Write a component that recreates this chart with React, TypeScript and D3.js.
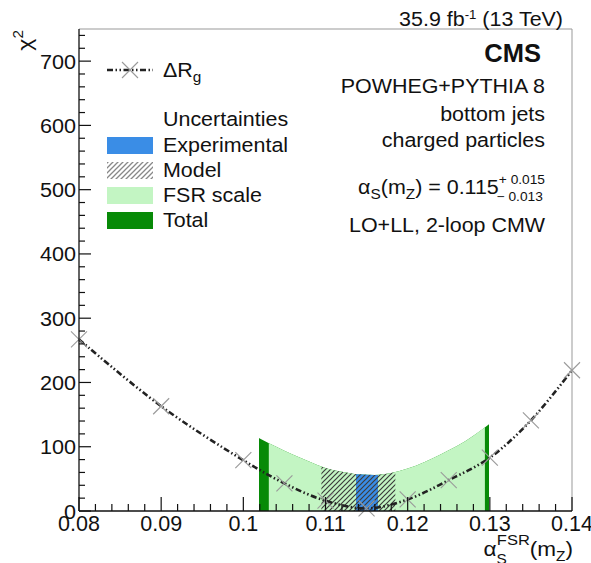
import * as d3 from "d3";

// scan points of the chi2 vs alpha_s(FSR)
const alphaValues = [0.08, 0.09, 0.1, 0.105, 0.11, 0.115, 0.12, 0.125, 0.13, 0.135, 0.14];
const chi2Values = [267, 163, 79, 43, 16, 4, 18, 48, 83, 141, 219];

// upper edge of the uncertainty bands
const bandAlpha = [0.1, 0.102, 0.104, 0.106, 0.108, 0.11, 0.112, 0.114, 0.116, 0.118, 0.12, 0.122, 0.124, 0.126, 0.128, 0.13];
const bandUpper = [127, 113, 100, 88, 77, 67, 61, 57, 56, 59, 66, 76, 88, 101, 117, 136];

// interval of each uncertainty
const totalRange = [0.1019, 0.1299];
const fsrRange = [0.1031, 0.1294];
const modelRange = [0.1095, 0.1185];
const expRange = [0.1137, 0.1164];

const xTickLabels = ["0.08", "0.09", "0.1", "0.11", "0.12", "0.13", "0.14"];
const yTickValues = [0, 100, 200, 300, 400, 500, 600, 700];

const legendLabels = ["Experimental", "Model", "FSR scale", "Total"];

const FONT = "'Liberation Sans', Arial, Helvetica, sans-serif";
const SX = 1.1; // the picture is a bit stretched sideways

function T({ x, y, anchor = "start", size = 19, sx = SX, weight = "normal", rotate = 0, children }: any) {
  return (
    <g transform={`translate(${x},${y}) rotate(${rotate}) scale(${sx},1)`}>
      <text textAnchor={anchor} fontSize={size} fontWeight={weight} fontFamily={FONT} fill="#111">
        {children}
      </text>
    </g>
  );
}

export default function App() {
  const width = 591;
  const height = 563;
  const left = 79;
  const right = 572;
  const top = 29;
  const bottom = 511;

  const x = d3.scaleLinear().domain([0.08, 0.14]).range([left, right]);
  const y = d3.scaleLinear().domain([0, 750]).range([bottom, top]);

  const pts = alphaValues.map((a, i) => [a, chi2Values[i]] as [number, number]);
  const curve = d3
    .line<[number, number]>()
    .x((d) => x(d[0]))
    .y((d) => y(d[1]))
    .curve(d3.curveCatmullRom.alpha(0.5))(pts);

  const band = d3
    .area<number>()
    .x((d) => x(d))
    .y0(y(0))
    .y1((d, i) => y(bandUpper[i]))
    .curve(d3.curveMonotoneX)(bandAlpha);

  const clips = [
    { id: "cTotal", r: totalRange },
    { id: "cFsr", r: fsrRange },
    { id: "cModel", r: modelRange },
    { id: "cExp", r: expRange },
  ];

  const xMinor = d3.range(0.08, 0.14001, 0.002);
  const yMinor = d3.range(0, 750, 20);

  const marker = (cx: number, cy: number, s = 8) => (
    <g stroke="#999" strokeWidth={1.1}>
      <line x1={cx - s} y1={cy - s} x2={cx + s} y2={cy + s} />
      <line x1={cx - s} y1={cy + s} x2={cx + s} y2={cy - s} />
    </g>
  );

  const dash = "6 2.5 1.5 2.5 1.5 2.5";

  const legendColors = ["#3a8de6", "url(#hatchLeg)", "#c3f5c3", "#078a07"];
  const boxTop = [137, 162, 187, 212];

  return (
    <svg width={width} height={height} style={{ position: "fixed", left: 0, top: 0, background: "#fff" }}>
      <defs>
        <pattern id="hatch" patternUnits="userSpaceOnUse" width={5} height={5}>
          <path d="M-1,1 l2,-2 M0,5 l5,-5 M4,6 l2,-2" stroke="#3c3c3c" strokeWidth={1.2} />
        </pattern>
        <pattern id="hatchLeg" patternUnits="userSpaceOnUse" width={5} height={5}>
          <path d="M-1,1 l2,-2 M0,5 l5,-5 M4,6 l2,-2" stroke="#888" strokeWidth={1.3} />
        </pattern>
        {clips.map((c) => (
          <clipPath key={c.id} id={c.id}>
            <rect x={x(c.r[0])} y={top} width={x(c.r[1]) - x(c.r[0])} height={bottom - top} />
          </clipPath>
        ))}
      </defs>

      {/* uncertainty bands */}
      <path d={band!} fill="#078a07" clipPath="url(#cTotal)" />
      <path d={band!} fill="#c3f5c3" clipPath="url(#cFsr)" />
      <path d={band!} fill="#3a8de6" clipPath="url(#cExp)" />
      <path d={band!} fill="url(#hatch)" clipPath="url(#cModel)" />

      {/* scan curve */}
      <path d={curve!} fill="none" stroke="#222" strokeWidth={2.6} strokeDasharray={dash} />
      {pts.map((d, i) => (
        <g key={i}>{marker(x(d[0]), y(d[1]))}</g>
      ))}

      {/* frame */}
      <line x1={left} x2={right} y1={top} y2={top} stroke="#999" />
      <line x1={right} x2={right} y1={top} y2={bottom} stroke="#999" />
      <line x1={left} x2={left} y1={top} y2={bottom} stroke="#111" strokeWidth={1.3} />
      <line x1={left} x2={right} y1={bottom} y2={bottom} stroke="#111" strokeWidth={1.3} />

      {/* x ticks */}
      {xMinor.map((t, i) => (
        <line key={i} x1={x(t)} x2={x(t)} y1={bottom} y2={bottom - (i % 5 === 0 ? 14 : 7)} stroke="#111" strokeWidth={1.2} />
      ))}
      {xTickLabels.map((l) => (
        <T key={l} x={x(+l)} y={531} anchor="middle" size={21.5} sx={1}>
          {l}
        </T>
      ))}

      {/* y ticks */}
      {yMinor.map((t, i) => (
        <line key={i} x1={left} x2={left + (i % 5 === 0 ? 12 : 6)} y1={y(t)} y2={y(t)} stroke="#111" strokeWidth={1.2} />
      ))}
      {yTickValues.map((t) => (
        <T key={t} x={76} y={y(t) + 7.5} anchor="end" size={21} sx={1.03}>
          {t}
        </T>
      ))}

      {/* axis titles */}
      <T x={32} y={30} anchor="end" rotate={-90} size={21}>
        χ<tspan fontSize={14} dy={-9}>2</tspan>
      </T>
      <T x={573} y={556} anchor="end" size={20.5}>
        α<tspan fontSize={14} dy={8}>S</tspan>
        <tspan fontSize={15} dx={-9} dy={-19}>FSR</tspan>
        <tspan dy={11}>(m</tspan>
        <tspan fontSize={14} dy={5}>Z</tspan>
        <tspan dy={-5}>)</tspan>
      </T>

      {/* header */}
      <T x={563} y={26} anchor="end" size={19.5}>
        35.9 fb<tspan fontSize={12} dy={-7}>-1</tspan>
        <tspan dy={7}> (13 TeV)</tspan>
      </T>
      <T x={541} y={62} anchor="end" size={25} weight="bold" sx={1.02}>
        CMS
      </T>
      <T x={545} y={93} anchor="end" size={19.5}>POWHEG+PYTHIA 8</T>
      <T x={545} y={121} anchor="end" size={19.5}>bottom jets</T>
      <T x={545} y={147} anchor="end" size={19.5}>charged particles</T>
      <T x={545} y={194} anchor="end" size={19.5}>
        α<tspan fontSize={14} dy={5}>S</tspan>
        <tspan dy={-5}>(m</tspan>
        <tspan fontSize={14} dy={5}>Z</tspan>
        <tspan dy={-5}>) = 0.115</tspan>
        <tspan fontSize={12.5} dy={-10}>+ 0.015</tspan>
        <tspan fontSize={12.5} dx={-44} dy={17}>− 0.013</tspan>
      </T>
      <T x={545} y={232} anchor="end" size={19.5}>LO+LL, 2-loop CMW</T>

      {/* legend */}
      <line x1={107} x2={153} y1={70} y2={70} stroke="#222" strokeWidth={2.6} strokeDasharray={dash} />
      {marker(130, 70, 8)}
      <T x={163} y={77} size={19.5}>
        ΔR<tspan fontSize={14} dy={5}>g</tspan>
      </T>
      <T x={163} y={126} size={19.5}>Uncertainties</T>
      {legendLabels.map((l, i) => (
        <g key={l}>
          <rect x={107} y={boxTop[i]} width={46} height={17} fill={legendColors[i]} />
          <T x={163} y={boxTop[i] + 14.5} size={19.5}>
            {l}
          </T>
        </g>
      ))}
    </svg>
  );
}
